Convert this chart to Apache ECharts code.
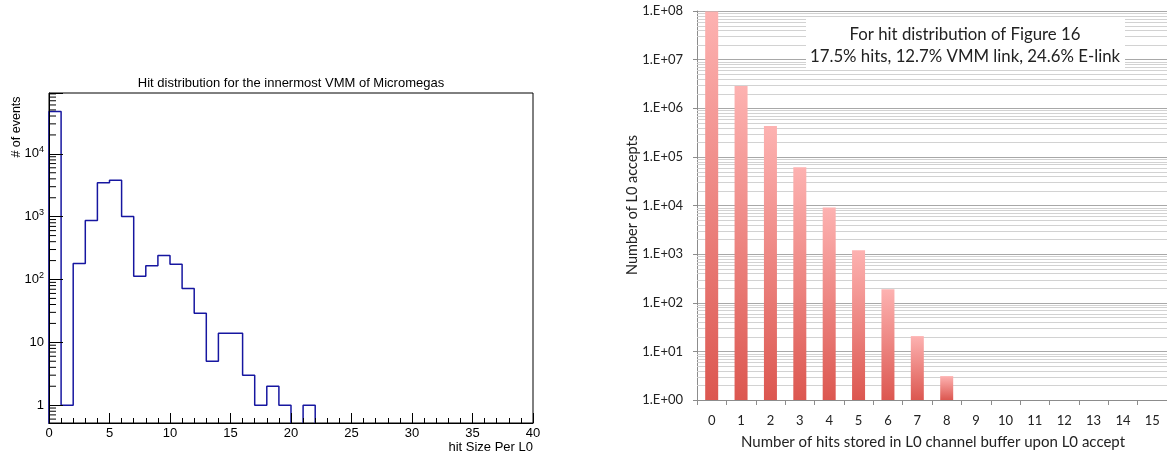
<!DOCTYPE html>
<html>
<head>
<meta charset="utf-8">
<script src="https://cdn.jsdelivr.net/npm/echarts@6/dist/echarts.min.js"></script>
<style>html,body{margin:0;padding:0;background:#fff}#c{width:1167px;height:456px}</style>
</head>
<body>
<div id="c"></div>
<script>
// ---- Left histogram (ROOT style) ----
const leftTitle = 'Hit distribution for the innermost VMM of Micromegas';
const leftBinCounts = [47000, 1, 180, 870, 3460, 3800, 1010, 113, 165, 240, 175, 72, 29, 5, 14, 14, 3, 1, 2, 1, 0, 1,
  0, 0, 0, 0, 0, 0, 0, 0, 0, 0, 0, 0, 0, 0, 0, 0, 0, 0];
const leftXTicks = [0, 5, 10, 15, 20, 25, 30, 35, 40];
const leftYMin = 0.52, leftYMax = 93000;

// ---- Right bar chart (Excel style) ----
const rightCategories = ['0','1','2','3','4','5','6','7','8','9','10','11','12','13','14','15'];
const rightValues = [9.8e7, 2.87e6, 4.3e5, 6.1e4, 9.1e3, 1.2e3, 190, 20.6, 3.1, 0, 0, 0, 0, 0, 0, 0];
const rightNote = ['For hit distribution of Figure 16', '17.5% hits, 12.7% VMM link, 24.6% E-link'];

const chart = echarts.init(document.getElementById('c'), null, {renderer: 'canvas'});

// empty bins are drawn below the visible range so they are clipped at the frame
const FLOOR = 0.05;
const histPts = [[0, FLOOR]];
leftBinCounts.forEach((v, i) => histPts.push([i, v > 0 ? v : FLOOR]));
const lastV = leftBinCounts[leftBinCounts.length - 1];
histPts.push([leftBinCounts.length, lastV > 0 ? lastV : FLOOR]);

function minorLogValues(lo, hi) {
  const out = [];
  for (let k = -1; k <= 8; k++) {
    for (let m = 2; m <= 9; m++) {
      const v = m * Math.pow(10, k);
      if (v > lo && v < hi) out.push(v);
    }
  }
  return out;
}
const leftMinor = minorLogValues(leftYMin, leftYMax).map(v => [0, v]);
const rightMinor = minorLogValues(1, 1e8).map(v => [0, v]);

const option = {
  animation: false,
  grid: [
    {left: 49, right: 634, top: 93, bottom: 33, show: true, borderColor: '#000', borderWidth: 1, backgroundColor: 'transparent'},
    {left: 697, right: -5, top: 11, bottom: 56}
  ],
  xAxis: [
    {
      gridIndex: 0, type: 'value', min: 0, max: 40, interval: 5,
      axisLine: {show: true, lineStyle: {color: '#000', width: 1}},
      axisTick: {show: true, inside: true, length: 10, lineStyle: {color: '#000'}},
      minorTick: {show: true, splitNumber: 5, length: 5, lineStyle: {color: '#000'}},
      splitLine: {show: false},
      axisLabel: {fontFamily: 'Liberation Sans', fontSize: 13, color: '#000', margin: 4},
      z: 10
    },
    {
      gridIndex: 1, type: 'category', data: rightCategories, boundaryGap: true,
      axisLine: {show: true, lineStyle: {color: '#8c8c8c', width: 1}},
      axisTick: {show: true, length: 5, alignWithLabel: false, lineStyle: {color: '#8c8c8c'}},
      axisLabel: {fontFamily: 'Lato', fontSize: 13, color: '#222', margin: 14}
    }
  ],
  yAxis: [
    {
      gridIndex: 0, type: 'log', logBase: 10, min: leftYMin, max: leftYMax,
      axisLine: {show: true, lineStyle: {color: '#000', width: 1}},
      axisTick: {show: true, inside: true, length: 14, lineStyle: {color: '#000'}},
      splitLine: {show: false},
      axisLabel: {
        fontFamily: 'Liberation Sans', fontSize: 13, color: '#000', margin: 5,
        formatter: function (v) {
          const e = Math.log10(v);
          if (Math.abs(e - Math.round(e)) > 1e-6) return '';
          const n = Math.round(e);
          if (n === 0) return '1';
          if (n === 1) return '10';
          return '10{s|' + n + '}';
        },
        rich: {s: {fontFamily: 'Liberation Sans', fontSize: 9, verticalAlign: 'top', padding: [0, 0, 8, 0]}}
      },
      z: 10
    },
    {
      gridIndex: 1, type: 'log', logBase: 10, min: 1, max: 1e8,
      axisLine: {show: true, lineStyle: {color: '#8c8c8c', width: 1}},
      axisTick: {show: true, length: 4, lineStyle: {color: '#8c8c8c'}},
      splitLine: {show: true, lineStyle: {color: '#a8a8a8', width: 1}},
      axisLabel: {
        fontFamily: 'Lato', fontSize: 13, color: '#222', margin: 14,
        formatter: function (v) {
          const e = Math.log10(v);
          if (Math.abs(e - Math.round(e)) > 1e-6) return '';
          return '1.E+' + String(Math.round(e)).padStart(2, '0');
        }
      }
    }
  ],
  series: [
    {
      type: 'line', xAxisIndex: 0, yAxisIndex: 0, data: histPts, step: 'end',
      symbol: 'none', lineStyle: {color: '#1616a0', width: 1.5}, z: 3, clip: true
    },
    {
      type: 'custom', xAxisIndex: 0, yAxisIndex: 0, data: leftMinor, silent: true, z: 11,
      encode: {x: 0, y: 1},
      renderItem: function (params, api) {
        const p = api.coord([0, api.value(1)]);
        return {type: 'line', shape: {x1: p[0], y1: p[1], x2: p[0] + 7, y2: p[1]}, style: {stroke: '#000', lineWidth: 1}};
      }
    },
    {
      type: 'custom', xAxisIndex: 1, yAxisIndex: 1, data: rightMinor, silent: true, z: 1,
      encode: {x: 0, y: 1},
      renderItem: function (params, api) {
        const p = api.coord([0, api.value(1)]);
        const cs = params.coordSys;
        return {type: 'line', shape: {x1: cs.x, y1: Math.round(p[1]) + 0.5, x2: cs.x + cs.width, y2: Math.round(p[1]) + 0.5}, style: {stroke: '#d2d2d2', lineWidth: 1}};
      }
    },
    {
      type: 'bar', xAxisIndex: 1, yAxisIndex: 1, barWidth: 13, z: 5,
      data: rightValues.map(v => v > 0 ? v : null),
      itemStyle: {
        color: new echarts.graphic.LinearGradient(0, 0, 0, 1, [
          {offset: 0, color: '#fdb2b1'},
          {offset: 1, color: '#dc5750'}
        ])
      }
    }
  ],
  graphic: [
    {type: 'text', style: {text: leftTitle, x: 291, y: 83, align: 'center', verticalAlign: 'middle', font: '13px "Liberation Sans"', fill: '#000'}},
    {type: 'text', x: 17, y: 127, rotation: Math.PI / 2, style: {text: '# of events', align: 'center', verticalAlign: 'middle', font: '12.5px "Liberation Sans"', fill: '#000'}},
    {type: 'text', style: {text: 'hit Size Per L0', x: 533, y: 447, align: 'right', verticalAlign: 'middle', font: '13px "Liberation Sans"', fill: '#000'}},
    {type: 'text', x: 632, y: 205, rotation: Math.PI / 2, style: {text: 'Number of L0 accepts', align: 'center', verticalAlign: 'middle', font: '14.5px Lato', fill: '#222'}},
    {type: 'text', style: {text: 'Number of hits stored in L0 channel buffer upon L0 accept', x: 933, y: 442, align: 'center', verticalAlign: 'middle', font: '15px Lato', fill: '#222'}},
    {type: 'rect', shape: {x: 806, y: 19, width: 319, height: 49}, style: {fill: '#fff'}, z: 50},
    {type: 'text', z: 51, style: {text: rightNote[0], x: 965, y: 35, align: 'center', verticalAlign: 'middle', font: '16.8px Lato', fill: '#222'}},
    {type: 'text', z: 51, style: {text: rightNote[1], x: 965, y: 57, align: 'center', verticalAlign: 'middle', font: '16.8px Lato', fill: '#222'}}
  ]
};
chart.setOption(option);
</script>
</body>
</html>
